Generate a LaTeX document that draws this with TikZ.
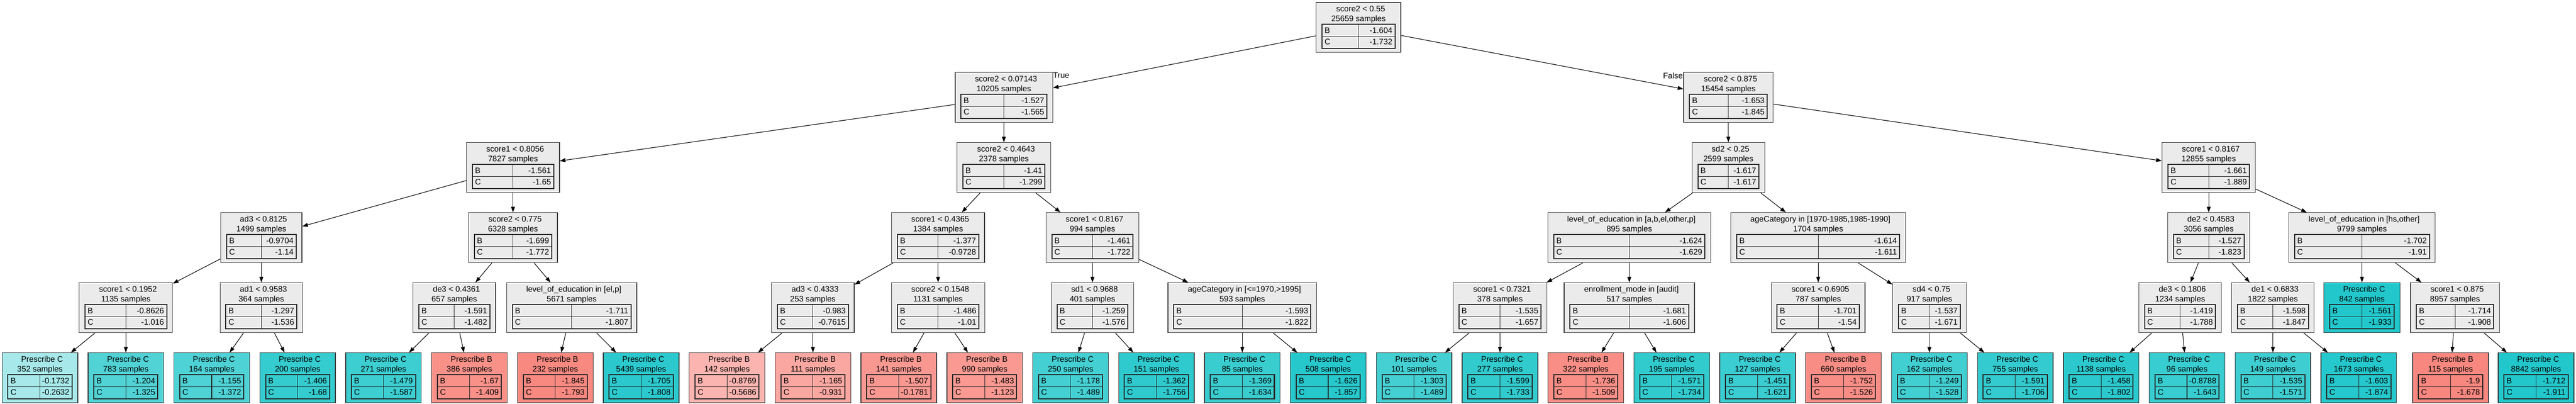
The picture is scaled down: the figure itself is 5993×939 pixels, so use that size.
\documentclass[tikz,border=0pt]{standalone}
\usepackage{fontspec}
\setmainfont{Liberation Sans}
\usetikzlibrary{arrows.meta}
\definecolor{nodegray}{RGB}{235,235,235}
\definecolor{tealbase}{RGB}{34,199,203}
\definecolor{salmbase}{RGB}{248,134,126}
\definecolor{boxline}{RGB}{60,60,60}
\newcommand\nodefont{\fontsize{18.67}{22}\selectfont}
\newlength\tnA
\newlength\tnB
\newlength\tnC
% #1 name, #2 centre x, #3 top y, #4 width, #5 line 1, #6 line 2, #7 B value, #8 C value, #9 fill
\newcommand\tnode[9]{%
  \settowidth\tnA{\nodefont #7}%
  \settowidth\tnB{\nodefont #8}%
  \ifdim\tnB>\tnA \tnA=\tnB\fi
  \settowidth\tnC{\nodefont B}%
  \pgfmathsetmacro\tabL{#2-#4/2+13.5}%
  \pgfmathsetmacro\tabR{#2+#4/2-13.5}%
  \pgfmathsetmacro\divX{\tabL+(#4-27-\tnA+\tnC)/2}%
  \node[tbox, fill=#9, minimum width=#4pt, anchor=north] (#1) at (#2,#3) {};
  \node[txt] (#1-l1) at (#2+5,#3+22.5) {#5};
  \node[txt] (#1-l2) at (#2,#3+44.5) {#6};
  \draw[tabin] (\divX,#3+51.5) -- (\divX,#3+107.5);
  \draw[tabin] (\tabL,#3+79.5) -- (\tabR,#3+79.5);
  \draw[tabout] (\tabL,#3+51.5) rectangle (\tabR,#3+107.5);
  \node[txt,anchor=base west] (#1-b) at (\tabL+6,#3+72) {B};
  \node[txt,anchor=base east] (#1-bv) at (\tabR-6,#3+72) {#7};
  \node[txt,anchor=base west] (#1-c) at (\tabL+6,#3+99) {C};
  \node[txt,anchor=base east] (#1-cv) at (\tabR-6,#3+99) {#8};
}
\begin{document}
\begin{tikzpicture}[x=1pt,y=-1pt,
  tbox/.style={draw=boxline, line width=1.6pt, minimum height=116pt, inner sep=0pt},
  txt/.style={anchor=base, inner sep=0pt, font=\nodefont, text=black},
  tabin/.style={line width=1.3pt, black!85},
  tabout/.style={line width=2.4pt, black!85},
  conn/.style={-{Triangle[length=13pt,width=9pt]}, line width=1.33pt, black}]
\useasboundingbox[fill=white] (0,0) rectangle (5993,939);

% level 0
\tnode{root}{3160.5}{5}{197}{score2 < 0.55}{25659 samples}{-1.604}{-1.732}{nodegray}
% level 1
\tnode{L}{2335.5}{168}{227}{score2 < 0.07143}{10205 samples}{-1.527}{-1.565}{nodegray}
\tnode{R}{4021}{168}{208}{score2 < 0.875}{15454 samples}{-1.653}{-1.845}{nodegray}
% level 2
\tnode{LL}{1193.5}{331}{216}{score1 < 0.8056}{7827 samples}{-1.561}{-1.65}{nodegray}
\tnode{LR}{2335.5}{331}{218}{score2 < 0.4643}{2378 samples}{-1.41}{-1.299}{nodegray}
\tnode{RL}{4021}{331}{169}{sd2 < 0.25}{2599 samples}{-1.617}{-1.617}{nodegray}
\tnode{RR}{5138.5}{331}{217}{score1 < 0.8167}{12855 samples}{-1.661}{-1.889}{nodegray}
% level 3
\tnode{LLL}{608}{494}{189}{ad3 < 0.8125}{1499 samples}{-0.9704}{-1.14}{nodegray}
\tnode{LLR}{1193.5}{494}{207}{score2 < 0.775}{6328 samples}{-1.699}{-1.772}{nodegray}
\tnode{LRL}{2182.5}{494}{216}{score1 < 0.4365}{1384 samples}{-1.377}{-0.9728}{nodegray}
\tnode{LRR}{2541.5}{494}{216}{score1 < 0.8167}{994 samples}{-1.461}{-1.722}{nodegray}
\tnode{RLL}{3790.5}{494}{379}{level\_of\_education in [a,b,el,other,p]}{895 samples}{-1.624}{-1.629}{nodegray}
\tnode{RLR}{4230}{494}{406}{ageCategory in [1970-1985,1985-1990]}{1704 samples}{-1.614}{-1.611}{nodegray}
\tnode{RRL}{5138.5}{494}{191}{de2 < 0.4583}{3056 samples}{-1.527}{-1.823}{nodegray}
\tnode{RRR}{5495}{494}{341}{level\_of\_education in [hs,other]}{9799 samples}{-1.702}{-1.91}{nodegray}
% level 4
\tnode{LLLL}{292.8}{657}{217}{score1 < 0.1952}{1135 samples}{-0.8626}{-1.016}{nodegray}
\tnode{LLLR}{608}{657}{192}{ad1 < 0.9583}{364 samples}{-1.297}{-1.536}{nodegray}
\tnode{LLRL}{1057}{657}{192}{de3 < 0.4361}{657 samples}{-1.591}{-1.482}{nodegray}
\tnode{LLRR}{1330}{657}{303}{level\_of\_education in [el,p]}{5671 samples}{-1.711}{-1.807}{nodegray}
\tnode{LRLL}{1891.2}{657}{192}{ad3 < 0.4333}{253 samples}{-0.983}{-0.7615}{nodegray}
\tnode{LRLR}{2182.5}{657}{217}{score2 < 0.1548}{1131 samples}{-1.486}{-1.01}{nodegray}
\tnode{LRRL}{2541.5}{657}{192}{sd1 < 0.9688}{401 samples}{-1.259}{-1.576}{nodegray}
\tnode{LRRR}{2890.2}{657}{346}{ageCategory in [<=1970,>1995]}{593 samples}{-1.593}{-1.822}{nodegray}
\tnode{RLLL}{3489.6}{657}{218}{score1 < 0.7321}{378 samples}{-1.535}{-1.657}{nodegray}
\tnode{RLLR}{3790.5}{657}{303}{enrollment\_mode in [audit]}{517 samples}{-1.681}{-1.606}{nodegray}
\tnode{RLRL}{4230}{657}{218}{score1 < 0.6905}{787 samples}{-1.701}{-1.54}{nodegray}
\tnode{RLRR}{4488.6}{657}{171}{sd4 < 0.75}{917 samples}{-1.537}{-1.671}{nodegray}
\tnode{RRLL}{5072}{657}{192}{de3 < 0.1806}{1234 samples}{-1.419}{-1.788}{nodegray}
\tnode{RRLR}{5287.8}{657}{192}{de1 < 0.6833}{1822 samples}{-1.598}{-1.847}{nodegray}
\tnode{RRRL}{5495}{657}{177}{Prescribe C}{842 samples}{-1.561}{-1.933}{tealbase}
\tnode{RRRR}{5711.5}{657}{207}{score1 < 0.875}{8957 samples}{-1.714}{-1.908}{nodegray}
% level 5 (leaves)
\tnode{l1}{93}{820}{176}{Prescribe C}{352 samples}{-0.1732}{-0.2632}{tealbase!40!white}
\tnode{l2}{292.8}{820}{176}{Prescribe C}{783 samples}{-1.204}{-1.325}{tealbase!78.6!white}
\tnode{l3}{492.6}{820}{176}{Prescribe C}{164 samples}{-1.155}{-1.372}{tealbase!80.3!white}
\tnode{l4}{692.4}{820}{176}{Prescribe C}{200 samples}{-1.406}{-1.68}{tealbase!91.5!white}
\tnode{l5}{892.2}{820}{176}{Prescribe C}{271 samples}{-1.479}{-1.587}{tealbase!88.1!white}
\tnode{l6}{1092}{820}{176}{Prescribe B}{386 samples}{-1.67}{-1.409}{salmbase!91.1!white}
\tnode{l7}{1291.8}{820}{176}{Prescribe B}{232 samples}{-1.845}{-1.793}{salmbase!97.5!white}
\tnode{l8}{1491.6}{820}{176}{Prescribe C}{5439 samples}{-1.705}{-1.808}{tealbase!96.1!white}
\tnode{l9}{1691.4}{820}{176}{Prescribe B}{142 samples}{-0.8769}{-0.5686}{salmbase!62.3!white}
\tnode{l10}{1891.2}{820}{176}{Prescribe B}{111 samples}{-1.165}{-0.931}{salmbase!72.8!white}
\tnode{l11}{2091}{820}{176}{Prescribe B}{141 samples}{-1.507}{-0.1781}{salmbase!85.2!white}
\tnode{l12}{2290.8}{820}{176}{Prescribe B}{990 samples}{-1.483}{-1.123}{salmbase!84.3!white}
\tnode{l13}{2490.6}{820}{176}{Prescribe C}{250 samples}{-1.178}{-1.489}{tealbase!84.5!white}
\tnode{l14}{2690.4}{820}{176}{Prescribe C}{151 samples}{-1.362}{-1.756}{tealbase!94.2!white}
\tnode{l15}{2890.2}{820}{176}{Prescribe C}{85 samples}{-1.369}{-1.634}{tealbase!89.8!white}
\tnode{l16}{3090}{820}{176}{Prescribe C}{508 samples}{-1.626}{-1.857}{tealbase!97.9!white}
\tnode{l17}{3289.8}{820}{176}{Prescribe C}{101 samples}{-1.303}{-1.489}{tealbase!84.5!white}
\tnode{l18}{3489.6}{820}{176}{Prescribe C}{277 samples}{-1.599}{-1.733}{tealbase!93.4!white}
\tnode{l19}{3689.4}{820}{176}{Prescribe B}{322 samples}{-1.736}{-1.509}{salmbase!93.5!white}
\tnode{l20}{3889.2}{820}{176}{Prescribe C}{195 samples}{-1.571}{-1.734}{tealbase!93.4!white}
\tnode{l21}{4089}{820}{176}{Prescribe C}{127 samples}{-1.451}{-1.621}{tealbase!89.3!white}
\tnode{l22}{4288.8}{820}{176}{Prescribe B}{660 samples}{-1.752}{-1.526}{salmbase!94.1!white}
\tnode{l23}{4488.6}{820}{176}{Prescribe C}{162 samples}{-1.249}{-1.528}{tealbase!86!white}
\tnode{l24}{4688.4}{820}{176}{Prescribe C}{755 samples}{-1.591}{-1.706}{tealbase!92.4!white}
\tnode{l25}{4888.2}{820}{176}{Prescribe C}{1138 samples}{-1.458}{-1.802}{tealbase!95.9!white}
\tnode{l26}{5088}{820}{176}{Prescribe C}{96 samples}{-0.8788}{-1.643}{tealbase!90.1!white}
\tnode{l27}{5287.8}{820}{176}{Prescribe C}{149 samples}{-1.535}{-1.571}{tealbase!87.5!white}
\tnode{l28}{5487.6}{820}{176}{Prescribe C}{1673 samples}{-1.603}{-1.874}{tealbase!98.5!white}
\tnode{l29}{5701}{820}{176}{Prescribe B}{115 samples}{-1.9}{-1.678}{salmbase!99.5!white}
\tnode{l30}{5900}{820}{176}{Prescribe C}{8842 samples}{-1.712}{-1.911}{tealbase!99.9!white}

% connectors
\foreach \p/\c in {root/L, root/R,
  L/LL, L/LR, R/RL, R/RR,
  LL/LLL, LL/LLR, LR/LRL, LR/LRR, RL/RLL, RL/RLR, RR/RRL, RR/RRR,
  LLL/LLLL, LLL/LLLR, LLR/LLRL, LLR/LLRR, LRL/LRLL, LRL/LRLR, LRR/LRRL, LRR/LRRR,
  RLL/RLLL, RLL/RLLR, RLR/RLRL, RLR/RLRR, RRL/RRLL, RRL/RRLR, RRR/RRRL, RRR/RRRR,
  LLLL/l1, LLLL/l2, LLLR/l3, LLLR/l4, LLRL/l5, LLRL/l6, LLRR/l7, LLRR/l8,
  LRLL/l9, LRLL/l10, LRLR/l11, LRLR/l12, LRRL/l13, LRRL/l14, LRRR/l15, LRRR/l16,
  RLLL/l17, RLLL/l18, RLLR/l19, RLLR/l20, RLRL/l21, RLRL/l22, RLRR/l23, RLRR/l24,
  RRLL/l25, RRLL/l26, RRLR/l27, RRLR/l28, RRRR/l29, RRRR/l30}
  \draw[conn] (\p) -- (\c);

% edge labels
\node[txt] (truelab) at (2469,181) {True};
\node[txt,anchor=base east] (falselab) at (3915,183) {False};
\end{tikzpicture}
\end{document}
